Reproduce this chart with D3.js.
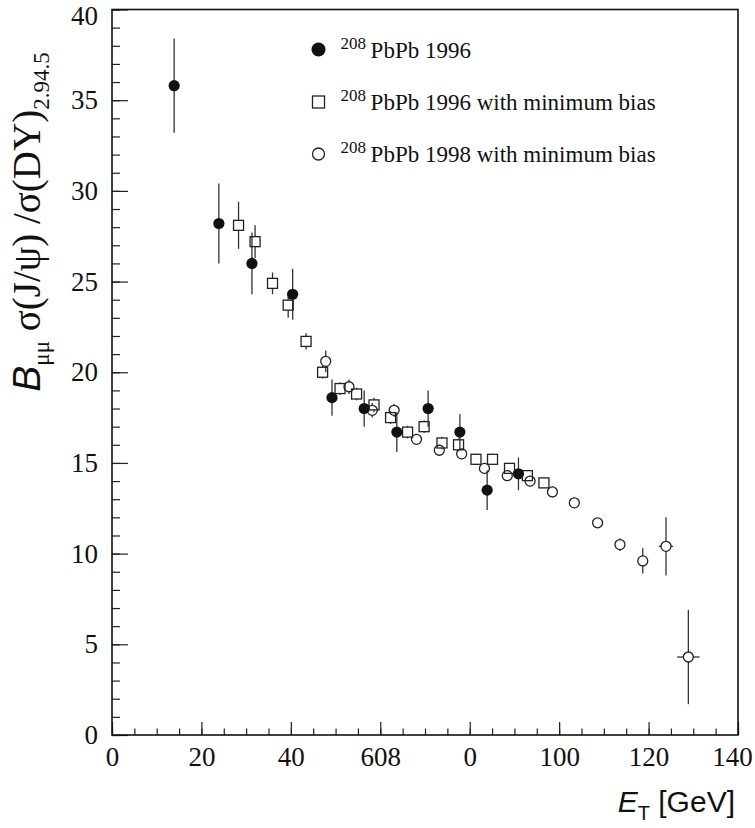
<!DOCTYPE html>
<html>
<head>
<meta charset="utf-8">
<script src="https://cdn.jsdelivr.net/npm/d3@7"></script>
<style>
  body { margin: 0; background: #fff; }
  svg { display: block; }
</style>
</head>
<body>
<div id="svg_container"></div>
<script>
// 208PbPb 1996 (filled circles)
const pb96_et = [13.9, 23.9, 31.3, 40.4, 49.2, 56.4, 63.7, 70.7, 77.8, 83.9, 90.9];
const pb96_val = [35.8, 28.2, 26.0, 24.3, 18.6, 18.0, 16.7, 18.0, 16.7, 13.5, 14.4];
const pb96_err = [2.6, 2.2, 1.7, 1.4, 1.0, 1.0, 1.1, 1.0, 1.0, 1.1, 0.9];

// 208PbPb 1996 with minimum bias (open squares)
const mb96_et = [28.3, 32.0, 35.9, 39.4, 43.4, 47.1, 51.0, 54.7, 58.6, 62.3, 66.1, 69.8, 73.8, 77.5, 81.4, 85.1, 88.9, 92.9, 96.6];
const mb96_val = [28.1, 27.2, 24.9, 23.7, 21.7, 20.0, 19.1, 18.8, 18.2, 17.5, 16.7, 17.0, 16.1, 16.0, 15.2, 15.2, 14.7, 14.3, 13.9];
const mb96_err = [1.3, 0.9, 0.6, 0.7, 0.45, 0.35, 0.35, 0.35, 0.4, 0.35, 0.35, 0.35, 0.35, 0.35, 0.3, 0.3, 0.3, 0.3, 0.3];

// 208PbPb 1998 with minimum bias (open circles)
const mb98_et = [47.8, 53.0, 58.2, 63.1, 68.1, 73.2, 78.2, 83.3, 88.4, 93.5, 98.5, 103.4, 108.6, 113.6, 118.7, 123.9, 128.9];
const mb98_val = [20.6, 19.2, 17.9, 17.9, 16.3, 15.7, 15.5, 14.7, 14.3, 14.0, 13.4, 12.8, 11.7, 10.5, 9.6, 10.4, 4.3];
const mb98_err = [0.6, 0.4, 0.4, 0.35, 0.3, 0.3, 0.3, 0.3, 0.3, 0.3, 0.3, 0.3, 0.25, 0.35, 0.7, 1.6, 2.6];
const mb98_xerr = [0, 0, 0, 0, 0, 0, 0, 0, 0, 0, 0, 0, 0, 0, 0, 1.6, 2.5];

const xTicks = [0, 20, 40, 60, 80, 100, 120, 140];
const xTickLabels = ["0", "20", "40", "608", "0", "100", "120", "140"];
const yTicks = [0, 5, 10, 15, 20, 25, 30, 35, 40];

const legendLabels = ["PbPb 1996", "PbPb 1996 with minimum bias", "PbPb 1998 with minimum bias"];

const W = 755, H = 828;
const margin = { top: 9.5, right: 17, bottom: 93, left: 112 };
const width = W - margin.left - margin.right,
    height = H - margin.top - margin.bottom;

const serif = "'Liberation Serif', 'Times New Roman', serif";
const sans = "'Liberation Sans', Arial, sans-serif";

const svg = d3.select("#svg_container")
    .append("svg")
    .attr("width", W)
    .attr("height", H)
    .append("g")
    .attr("transform", `translate(${margin.left}, ${margin.top})`);

const x = d3.scaleLinear().domain([0, 140]).range([0, width]);
const y = d3.scaleLinear().domain([0, 40]).range([height, 0]);

// X axis: minor ticks, then major ticks with labels
svg.append("g")
    .attr("transform", `translate(0,${height})`)
    .call(d3.axisBottom(x).tickValues(d3.range(0, 141, 5)).tickSizeInner(-6.5).tickSizeOuter(0).tickFormat(""))
    .call(g => g.select(".domain").remove());
const xAxis = svg.append("g")
    .attr("transform", `translate(0,${height})`)
    .call(d3.axisBottom(x).tickValues(xTicks).tickSizeInner(-13).tickSizeOuter(0).tickPadding(12)
        .tickFormat((d, i) => xTickLabels[i]))
    .call(g => g.select(".domain").remove());
xAxis.attr("font-family", null).attr("font-size", null);
xAxis.selectAll("text")
    .style("font-family", serif)
    .style("font-size", "27px")
    .attr("fill", "#111")
    .attr("dx", d => d === 140 ? -6 : 0);

// Y axis
svg.append("g")
    .call(d3.axisLeft(y).tickValues(d3.range(0, 41, 1)).tickSizeInner(-8).tickSizeOuter(0).tickFormat(""))
    .call(g => g.select(".domain").remove());
const yAxis = svg.append("g")
    .call(d3.axisLeft(y).tickValues(yTicks).tickSizeInner(-16).tickSizeOuter(0).tickPadding(14))
    .call(g => g.select(".domain").remove());
yAxis.attr("font-family", null).attr("font-size", null);
yAxis.selectAll("text")
    .style("font-family", serif)
    .style("font-size", "27px")
    .attr("fill", "#111")
    .attr("dy", d => d === 40 ? "0.55em" : "0.32em");

svg.selectAll(".tick line").attr("stroke", "#222").attr("stroke-width", 1.2);

// frame
svg.append("rect")
    .attr("x", 0).attr("y", 0)
    .attr("width", width).attr("height", height)
    .attr("fill", "none")
    .attr("stroke", "#111")
    .attr("stroke-width", 1.6);

// error bars with a gap around the marker, like ROOT
function drawErrors(et, val, err, xerr, gap) {
    const g = svg.append("g").attr("stroke", "#333").attr("stroke-width", 1.3);
    et.forEach(function (e, i) {
        const cx = x(e), cy = y(val[i]);
        const top = y(val[i] + err[i]), bot = y(val[i] - err[i]);
        if (cy - gap > top) g.append("line").attr("x1", cx).attr("x2", cx).attr("y1", top).attr("y2", cy - gap);
        if (bot > cy + gap) g.append("line").attr("x1", cx).attr("x2", cx).attr("y1", cy + gap).attr("y2", bot);
        if (xerr && xerr[i] > 0) {
            const l = x(e - xerr[i]), r = x(e + xerr[i]);
            if (cx - gap > l) g.append("line").attr("x1", l).attr("x2", cx - gap).attr("y1", cy).attr("y2", cy);
            if (r > cx + gap) g.append("line").attr("x1", cx + gap).attr("x2", r).attr("y1", cy).attr("y2", cy);
        }
    });
}

drawErrors(mb96_et, mb96_val, mb96_err, null, 5);
drawErrors(mb98_et, mb98_val, mb98_err, mb98_xerr, 5);
drawErrors(pb96_et, pb96_val, pb96_err, null, 0);

svg.append("g")
    .selectAll("rect")
    .data(mb96_et)
    .enter()
    .append("rect")
    .attr("x", (d) => x(d) - 5)
    .attr("y", (d, i) => y(mb96_val[i]) - 5)
    .attr("width", 10)
    .attr("height", 10)
    .attr("fill", "none")
    .attr("stroke", "#222")
    .attr("stroke-width", 1.3);

svg.append("g")
    .selectAll("circle")
    .data(mb98_et)
    .enter()
    .append("circle")
    .attr("cx", (d) => x(d))
    .attr("cy", (d, i) => y(mb98_val[i]))
    .attr("r", 5)
    .attr("fill", "none")
    .attr("stroke", "#222")
    .attr("stroke-width", 1.3);

svg.append("g")
    .selectAll("circle")
    .data(pb96_et)
    .enter()
    .append("circle")
    .attr("cx", (d) => x(d))
    .attr("cy", (d, i) => y(pb96_val[i]))
    .attr("r", 5.6)
    .attr("fill", "#111");

// legend
const leg = svg.append("g").attr("transform", `translate(${318.5 - margin.left}, ${-margin.top})`);
const legY = [49.5, 102, 154];
leg.append("circle").attr("cx", 0).attr("cy", legY[0]).attr("r", 7).attr("fill", "#111");
leg.append("rect").attr("x", -6).attr("y", legY[1] - 6).attr("width", 12).attr("height", 12)
    .attr("fill", "none").attr("stroke", "#222").attr("stroke-width", 1.3);
leg.append("circle").attr("cx", 0).attr("cy", legY[2]).attr("r", 6)
    .attr("fill", "none").attr("stroke", "#222").attr("stroke-width", 1.3);
legendLabels.forEach(function (t, i) {
    const tx = leg.append("text")
        .attr("x", 22)
        .attr("y", legY[i] + 8)
        .style("font-family", serif)
        .attr("font-size", 23)
        .attr("fill", "#111");
    tx.append("tspan").attr("font-size", 17).attr("dy", -9).text("208");
    tx.append("tspan").attr("dy", 9).text("\u2009" + t);
});

// axis titles
const xl = svg.append("text")
    .attr("x", width - 3)
    .attr("y", height + 77)
    .attr("text-anchor", "end")
    .style("font-family", sans)
    .attr("font-size", 30)
    .attr("fill", "#111");
xl.append("tspan").attr("font-style", "italic").text("E");
xl.append("tspan").attr("font-size", 20).attr("dy", 8).text("T");
xl.append("tspan").attr("dy", -8).text(" [GeV]");

const yl = svg.append("text")
    .attr("transform", `translate(${40 - margin.left}, ${222 - margin.top}) rotate(-90)`)
    .attr("text-anchor", "middle")
    .style("font-family", serif)
    .attr("font-size", 39)
    .attr("fill", "#111");
yl.append("tspan").style("font-family", sans).attr("font-style", "italic").text("B");
yl.append("tspan").attr("font-size", 23).attr("dy", 9).text("\u03bc\u03bc");
yl.append("tspan").attr("dy", -9).text(" \u03c3(J/\u03c8) /\u03c3(DY)");
yl.append("tspan").attr("font-size", 23).attr("dy", 9).text("2.94.5");
</script>
</body>
</html>
